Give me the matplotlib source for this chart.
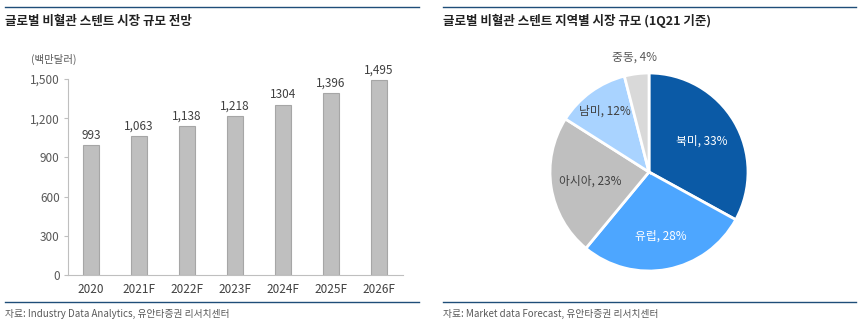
import numpy as np
import matplotlib.pyplot as plt
from matplotlib.lines import Line2D

plt.rcParams['font.family'] = ['Noto Sans CJK KR', 'DejaVu Sans']

years = ['2020', '2021F', '2022F', '2023F', '2024F', '2025F', '2026F']
market = [993, 1063, 1138, 1218, 1304, 1396, 1495]
market_labels = ['993', '1,063', '1,138', '1,218', '1304', '1,396', '1,495']
yticks = [0, 300, 600, 900, 1200, 1500]

regions = ['북미', '유럽', '아시아', '남미', '중동']
shares = [33, 28, 23, 12, 4]
pie_colors = ['#0B5AA6', '#4DA6FF', '#BFBFBF', '#A9D3FF', '#D9D9D9']
label_colors = ['white', 'white', '#404040', '#404040', '#595959']
label_radius = [0.62, 0.66, 0.6, 0.76, 1.17]

W, H = 861, 325
fig = plt.figure(figsize=(W / 100, H / 100), dpi=100)

def fx(px):
    return px / W

def fy(py):
    return 1 - py / H

# frame lines and titles
line_col = '#1F4E79'
for x0, x1 in [(5, 419), (443, 856)]:
    for y in [7, 302]:
        fig.add_artist(Line2D([fx(x0), fx(x1)], [fy(y), fy(y)], color=line_col, lw=1.0))

fig.text(fx(5), fy(21), '글로벌 비혈관 스텐트 시장 규모 전망', fontsize=9, fontweight='bold',
         color='#222222', va='center', ha='left')
fig.text(fx(443), fy(21), '글로벌 비혈관 스텐트 지역별 시장 규모 (1Q21 기준)', fontsize=9,
         fontweight='bold', color='#222222', va='center', ha='left')

fig.text(fx(5), fy(314), '자료: Industry Data Analytics, 유안타증권 리서치센터', fontsize=7,
         color='#595959', va='center', ha='left')
fig.text(fx(443), fy(314), '자료: Market data Forecast, 유안타증권 리서치센터', fontsize=7,
         color='#595959', va='center', ha='left')

# bar chart
ax = fig.add_axes([fx(68), fy(275), fx(403) - fx(68), fy(79) - fy(275)])
x = np.arange(len(years))
bars = ax.bar(x, market, width=0.33, color='#BFBFBF', edgecolor='#A6A6A6', linewidth=0.8)
for b, lab in zip(bars, market_labels):
    ax.text(b.get_x() + b.get_width() / 2, b.get_height() + 25, lab, ha='center', va='bottom',
            fontsize=8.5, color='#404040', clip_on=False)
ax.set_xlim(-0.48, 6.5)
ax.set_ylim(0, 1500)
ax.set_yticks(yticks)
ax.set_yticklabels([f'{v:,}' for v in yticks])
ax.set_xticks(x)
ax.set_xticklabels(years)
for s in ['top', 'right']:
    ax.spines[s].set_visible(False)
for s in ['left', 'bottom']:
    ax.spines[s].set_color('#BFBFBF')
    ax.spines[s].set_linewidth(0.8)
ax.tick_params(axis='y', length=3, color='#BFBFBF', labelsize=8.5, labelcolor='#595959', pad=3)
ax.tick_params(axis='x', length=0, labelsize=8.5, labelcolor='#404040', pad=6)
fig.text(fx(54), fy(59), '(백만달러)', fontsize=7.5, color='#595959', ha='center', va='center')

# pie chart
pax = fig.add_axes([fx(550), fy(271), fx(748) - fx(550), fy(73) - fy(271)])
wedges, _ = pax.pie(shares, colors=pie_colors, startangle=90, counterclock=False,
                    wedgeprops=dict(edgecolor='white', linewidth=2), radius=1.0)
for w, name, val, col, r in zip(wedges, regions, shares, label_colors, label_radius):
    ang = np.deg2rad((w.theta1 + w.theta2) / 2)
    pax.text(r * np.cos(ang), r * np.sin(ang), f'{name}, {val}%', ha='center', va='center',
             fontsize=8.5, color=col)
pax.set_xlim(-1, 1)
pax.set_ylim(-1, 1)
pax.set_aspect('equal')

fig.savefig('out.png', dpi=100)
